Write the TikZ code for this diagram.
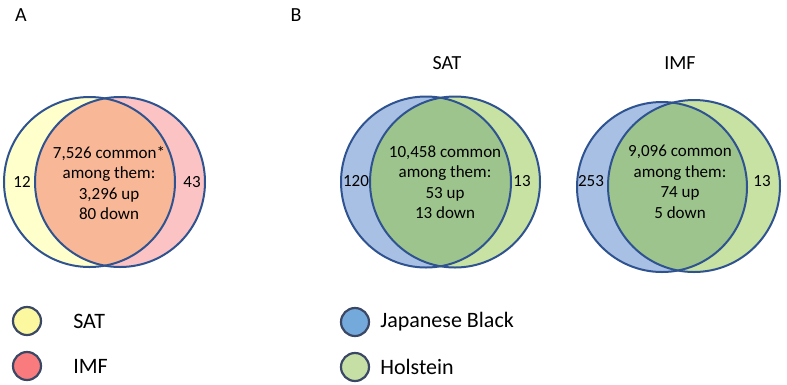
\documentclass[tikz,border=0pt]{standalone}
\usepackage{fontspec}
\setmainfont{Carlito}
\usepackage{xcolor}
\usetikzlibrary{positioning}

\definecolor{rimblue}{HTML}{2F5390}
\definecolor{legrim}{HTML}{3A4866}
\definecolor{satpale}{HTML}{FFFFCC}
\definecolor{imfpale}{HTML}{FBC3C3}
\definecolor{bothorange}{HTML}{F8B797}
\definecolor{jbpale}{HTML}{A8C0E4}
\definecolor{holpale}{HTML}{C7E2A2}
\definecolor{bothgreen}{HTML}{9DC48D}
\definecolor{legyellow}{HTML}{FBF8A0}
\definecolor{legred}{HTML}{FA7B7E}
\definecolor{legblue}{HTML}{74A9DB}
\definecolor{leggreen}{HTML}{C6DFA5}

\tikzset{
  rim/.style={draw=rimblue, line width=2pt},
  count/.style={font=\fontsize{17}{20.5}\selectfont, align=center, inner sep=0pt},
  paneltitle/.style={font=\fontsize{20}{24}\selectfont, inner sep=0pt},
  legtext/.style={font=\fontsize{22}{26}\selectfont, inner sep=0pt},
  legdot/.style={circle, draw=legrim, line width=2.2pt, minimum size=28pt, inner sep=0pt},
}

\begin{document}
\begin{tikzpicture}[x=1pt, y=-1pt]
    \useasboundingbox (0,0) rectangle (787,384);

    % =================================================================
    % 1. PANEL A: SAT vs IMF
    % =================================================================
    \fill[satpale] (89.5,182) ellipse[x radius=85.5pt, y radius=85pt];
    \fill[imfpale] (120,182) ellipse[x radius=85pt, y radius=85pt];
    \begin{scope}
        \clip (89.5,182) ellipse[x radius=85.5pt, y radius=85pt];
        \fill[bothorange] (120,182) ellipse[x radius=85pt, y radius=85pt];
    \end{scope}
    \draw[rim] (89.5,182) ellipse[x radius=85.5pt, y radius=85pt];
    \draw[rim] (120,182) ellipse[x radius=85pt, y radius=85pt];

    \node[paneltitle] (labA) at (21,15) {A};
    \node[count] (midA) at (109,183) {7,526 common*\\among them:\\3,296 up\\80 down};
    \node[count] (leftA) at (22,182) {12};
    \node[count] (rightA) at (192,182) {43};

    % =================================================================
    % 2. PANEL B: Japanese Black vs Holstein, SAT
    % =================================================================
    \fill[jbpale] (426,182) ellipse[x radius=85pt, y radius=85.5pt];
    \fill[holpale] (455,182) ellipse[x radius=85pt, y radius=85.5pt];
    \begin{scope}
        \clip (426,182) ellipse[x radius=85pt, y radius=85.5pt];
        \fill[bothgreen] (455,182) ellipse[x radius=85pt, y radius=85.5pt];
    \end{scope}
    \draw[rim] (426,182) ellipse[x radius=85pt, y radius=85.5pt];
    \draw[rim] (455,182) ellipse[x radius=85pt, y radius=85.5pt];

    \node[paneltitle] (labB) at (296,15) {B};
    \node[paneltitle] (titleSat) at (447,63) {SAT};
    \node[count] (midSat) at (445,182) {10,458 common\\among them:\\53 up\\13 down};
    \node[count] (leftSat) at (356,181) {120};
    \node[count] (rightSat) at (522,181) {13};

    % =================================================================
    % 3. PANEL B: Japanese Black vs Holstein, IMF
    % =================================================================
    \fill[jbpale] (662,187) ellipse[x radius=85pt, y radius=85pt];
    \fill[holpale] (694,186) ellipse[x radius=86pt, y radius=86pt];
    \begin{scope}
        \clip (662,187) ellipse[x radius=85pt, y radius=85pt];
        \fill[bothgreen] (694,186) ellipse[x radius=86pt, y radius=86pt];
    \end{scope}
    \draw[rim] (662,187) ellipse[x radius=85pt, y radius=85pt];
    \draw[rim] (694,186) ellipse[x radius=86pt, y radius=86pt];

    \node[paneltitle] (titleImf) at (680,63) {IMF};
    \node[count] (midImf) at (680,182) {9,096 common\\among them:\\74 up\\5 down};
    \node[count] (leftImf) at (591,181) {253};
    \node[count] (rightImf) at (762,181) {13};

    % =================================================================
    % 4. LEGENDS
    % =================================================================
    \node[legdot, fill=legyellow] (dotSat) at (27,321) {};
    \node[legdot, fill=legred] (dotImf) at (27,366) {};
    \node[legtext, right=31pt of dotSat] (keySat) {SAT};
    \node[legtext, right=31pt of dotImf] (keyImf) {IMF};

    \node[legdot, fill=legblue] (dotJb) at (355,322) {};
    \node[legdot, fill=leggreen] (dotHol) at (355,367) {};
    \node[legtext, right=10pt of dotJb] (keyJb) {Japanese Black};
    \node[legtext, right=10pt of dotHol] (keyHol) {Holstein};

\end{tikzpicture}
\end{document}
